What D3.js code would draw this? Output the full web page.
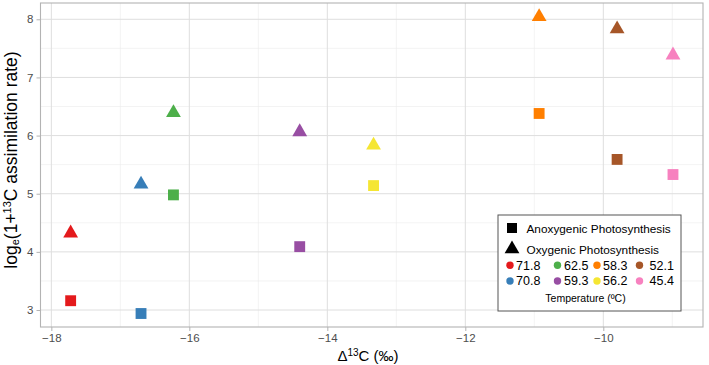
<!DOCTYPE html>
<html>
<head>
<meta charset="utf-8">
<script src="https://cdn.jsdelivr.net/npm/d3@7"></script>
<style>
  body { margin: 0; background: #fff; }
  svg { font-family: "Liberation Sans", Arial, Helvetica, sans-serif; }
</style>
</head>
<body>
<div id="chart"></div>
<script>
// temperature groups (ºC) and their Δ13C / log rates
var temps = ["71.8", "70.8", "62.5", "59.3", "58.3", "56.2", "52.1", "45.4"];
var delta13C = [-17.72, -16.70, -16.23, -14.40, -10.93, -13.33, -9.80, -8.99];
var anoxygenic = [3.16, 2.94, 4.98, 4.09, 6.38, 5.14, 5.59, 5.33];
var oxygenic = [4.34, 5.18, 6.41, 6.08, 8.06, 5.85, 7.85, 7.40];
var colors = ["#E41A1C", "#377EB8", "#4DAF4A", "#984EA3", "#FF7F00", "#F5E633", "#A65628", "#F781BF"];

var xTicks = [-18, -16, -14, -12, -10];
var yTicks = [3, 4, 5, 6, 7, 8];

var width = 709;
var height = 365;
var panel = { left: 40.5, right: 703, top: 3, bottom: 327 };

var svg = d3
  .select("#chart")
  .append("svg")
  .attr("width", width)
  .attr("height", height);

/* Scales */
var xScale = d3.scaleLinear().domain([-18.157, -8.555]).range([panel.left, panel.right]);
var yScale = d3.scaleLinear().domain([2.708, 8.28]).range([panel.bottom, panel.top]);
var color = d3.scaleOrdinal().domain(temps).range(colors);

/* Grid */
var grid = svg.append("g").attr("class", "grid");
var xMinor = d3.range(-18, -8, 1).filter((d) => d % 2 !== 0);
var yMinor = d3.range(2.5, 8.5, 1).filter((d) => yScale(d) > panel.top && yScale(d) < panel.bottom);

grid.selectAll(".xminor").data(xMinor).enter().append("line")
  .attr("x1", (d) => xScale(d)).attr("x2", (d) => xScale(d))
  .attr("y1", panel.top).attr("y2", panel.bottom)
  .attr("stroke", "#ebebeb").attr("stroke-width", 0.6);
grid.selectAll(".yminor").data(yMinor).enter().append("line")
  .attr("y1", (d) => yScale(d)).attr("y2", (d) => yScale(d))
  .attr("x1", panel.left).attr("x2", panel.right)
  .attr("stroke", "#ebebeb").attr("stroke-width", 0.6);
grid.selectAll(".xmajor").data(xTicks).enter().append("line")
  .attr("x1", (d) => xScale(d)).attr("x2", (d) => xScale(d))
  .attr("y1", panel.top).attr("y2", panel.bottom)
  .attr("stroke", "#dedede").attr("stroke-width", 1);
grid.selectAll(".ymajor").data(yTicks).enter().append("line")
  .attr("y1", (d) => yScale(d)).attr("y2", (d) => yScale(d))
  .attr("x1", panel.left).attr("x2", panel.right)
  .attr("stroke", "#dedede").attr("stroke-width", 1);

/* Axes */
var xAxis = d3.axisBottom(xScale).tickValues(xTicks).tickSize(4).tickPadding(3)
  .tickFormat((d) => d3.format("d")(d).replace("-", "\u2212"));
var yAxis = d3.axisLeft(yScale).tickValues(yTicks).tickSize(4).tickPadding(3)
  .tickFormat(d3.format("d"));

var gx = svg.append("g").attr("transform", `translate(0, ${panel.bottom})`).call(xAxis);
var gy = svg.append("g").attr("transform", `translate(${panel.left}, 0)`).call(yAxis);
[gx, gy].forEach(function (g) {
  g.select(".domain").remove();
  g.selectAll(".tick line").attr("stroke", "#b3b3b3");
  g.selectAll(".tick text").attr("fill", "#4d4d4d").style("font-size", "11.5px");
});

/* Panel border */
svg.append("rect")
  .attr("x", panel.left).attr("y", panel.top)
  .attr("width", panel.right - panel.left).attr("height", panel.bottom - panel.top)
  .attr("fill", "none").attr("stroke", "#b3b3b3").attr("stroke-width", 1.1);

/* Points */
var sq = d3.symbol().type(d3.symbolSquare).size(118);
var tri = d3.symbol().type(d3.symbolTriangle).size(95);

var pts = svg.append("g").attr("class", "points");
pts.selectAll(".sq").data(temps).enter().append("path")
  .attr("d", sq)
  .attr("transform", (d, i) => `translate(${xScale(delta13C[i])}, ${yScale(anoxygenic[i])})`)
  .attr("fill", (d) => color(d));
pts.selectAll(".tri").data(temps).enter().append("path")
  .attr("d", tri)
  .attr("transform", (d, i) => `translate(${xScale(delta13C[i])}, ${yScale(oxygenic[i]) + 1})`)
  .attr("fill", (d) => color(d));

/* Axis titles */
var xt = svg.append("text")
  .attr("x", 368).attr("y", 361)
  .attr("text-anchor", "middle")
  .style("font-size", "15px").attr("fill", "#000");
xt.append("tspan").text("\u0394");
xt.append("tspan").text("13").attr("baseline-shift", "super").style("font-size", "10px");
xt.append("tspan").text("C (\u2030)");

var yt = svg.append("text")
  .attr("transform", "translate(17, 160) rotate(-90)")
  .attr("text-anchor", "middle")
  .style("font-size", "17.5px").attr("fill", "#000");
yt.append("tspan").text("log");
yt.append("tspan").text("e").attr("dy", 2).style("font-size", "11px");
yt.append("tspan").text("(1+").attr("dy", -2);
yt.append("tspan").text("13").attr("dy", -6).style("font-size", "11px");
yt.append("tspan").text("C assimilation rate)").attr("dy", 6);

/* Legend */
var legend = svg.append("g").attr("class", "legend");
legend.append("rect")
  .attr("x", 498).attr("y", 215).attr("width", 183).attr("height", 96)
  .attr("fill", "#fff").attr("stroke", "#555").attr("stroke-width", 1);

var shapes = [
  { label: "Anoxygenic Photosynthesis", sym: d3.symbol().type(d3.symbolSquare).size(100), y: 228 },
  { label: "Oxygenic Photosynthesis", sym: d3.symbol().type(d3.symbolTriangle).size(95), y: 249 },
];
shapes.forEach(function (s) {
  legend.append("path").attr("d", s.sym()).attr("transform", `translate(512, ${s.y})`).attr("fill", "#000");
  legend.append("text").attr("x", 526.5).attr("y", s.y + 4.5)
    .style("font-size", "11.8px").attr("fill", "#000").text(s.label);
});

var dotX = [510, 557.5, 597, 639.5];
var textX = [516, 564, 603, 649.5];
var rowY = [265.3, 281];
temps.forEach(function (t, i) {
  var col = Math.floor(i / 2);
  var row = i % 2;
  legend.append("circle").attr("cx", dotX[col]).attr("cy", rowY[row]).attr("r", 3.7).attr("fill", color(t));
  legend.append("text").attr("x", textX[col]).attr("y", rowY[row] + 4.3)
    .style("font-size", "12.5px").attr("fill", "#000").text(t);
});
legend.append("text").attr("x", 585.5).attr("y", 301.5).attr("text-anchor", "middle")
  .style("font-size", "10.5px").attr("fill", "#000").text("Temperature (\u00baC)");
</script>
</body>
</html>
